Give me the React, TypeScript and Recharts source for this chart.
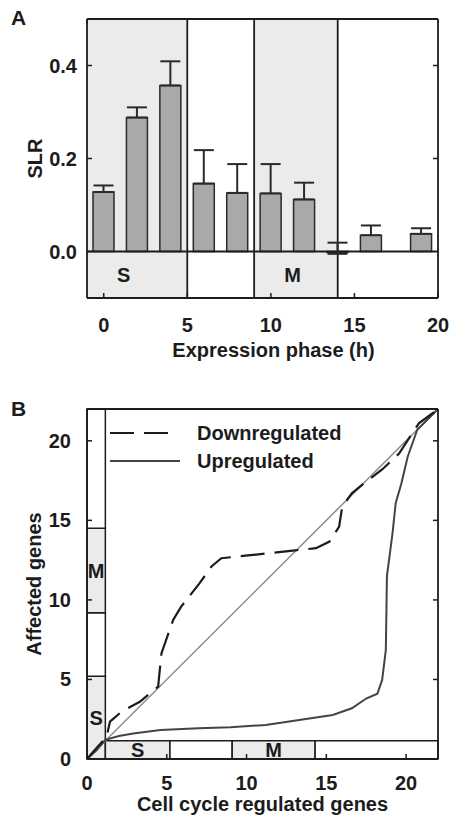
import {
  ComposedChart,
  Bar,
  ErrorBar,
  Line,
  XAxis,
  YAxis,
  ReferenceArea,
  ReferenceLine,
  Legend,
  Label
} from "recharts";

// panel A: expression phase vs SLR
const phaseHours = [0, 2, 4, 6, 8, 10, 12, 14, 16, 19];
const slrValues = [0.128, 0.288, 0.357, 0.146, 0.126, 0.125, 0.112, -0.002, 0.035, 0.038];
const slrErrUp = [0.014, 0.022, 0.052, 0.072, 0.062, 0.063, 0.036, 0.021, 0.021, 0.012];
const slrErrDown = [0, 0, 0, 0, 0, 0, 0, 0.003, 0, 0];
const phasesA = [
  { from: -1, to: 5, label: "S", shaded: true },
  { from: 5, to: 9, label: "", shaded: false },
  { from: 9, to: 14, label: "M", shaded: true },
  { from: 14, to: 20, label: "", shaded: false }
];
const ticksAx = [0, 5, 10, 15, 20];
const ticksAy = [0, 0.2, 0.4];

// panel B: cumulative curves
const downX = [0, 0.6, 1.23, 1.44, 2.17, 3.31, 4.46, 4.52, 4.67, 5.4, 5.9, 7.06, 7.8, 8.42, 10.4, 12.9, 14.35, 15.2, 15.8, 16.0, 16.6, 17.5, 18.5, 19.56, 20.8, 22];
const downY = [0, 0.7, 1.4, 2.35, 2.98, 3.6, 4.55, 5.18, 6.65, 8.74, 9.58, 11.05, 12.1, 12.62, 12.83, 13.1, 13.25, 13.67, 14.6, 15.87, 16.7, 17.44, 18.2, 19.2, 21.1, 22];
const upX = [0, 0.6, 1.15, 2.0, 2.9, 4.6, 7.0, 9.0, 11.2, 13.3, 15.4, 16.6, 17.5, 18.2, 18.5, 18.73, 18.8, 19.15, 19.35, 19.7, 20.1, 20.7, 22];
const upY = [0, 0.55, 1.2, 1.45, 1.6, 1.82, 1.93, 2.0, 2.14, 2.45, 2.77, 3.19, 3.8, 4.1, 4.97, 6.86, 11.5, 14.2, 16.1, 17.3, 19.0, 20.7, 22];
const diagX = [0, 22];
const phasesBLeft = [
  { from: 0, to: 5.2, label: "S", shaded: true },
  { from: 5.2, to: 9.2, label: "", shaded: false },
  { from: 9.2, to: 14.5, label: "M", shaded: true },
  { from: 14.5, to: 22, label: "", shaded: false }
];
const phasesBBottom = [
  { from: 1.15, to: 5.2, label: "S", shaded: true },
  { from: 5.2, to: 9.1, label: "", shaded: false },
  { from: 9.1, to: 14.3, label: "M", shaded: true },
  { from: 14.3, to: 22, label: "", shaded: false }
];
const bandWidth = 1.15;
const ticksB = [0, 5, 10, 15, 20];

const INK = "#1c1c1c";
const SHADE = "#ebebeb";
const FONT = "'Liberation Sans', Arial, sans-serif";
const FS = 20;

const barData = phaseHours.map((h, i) => ({
  h,
  slr: slrValues[i],
  err: [slrErrDown[i], slrErrUp[i]]
}));
const downData = downX.map((x, i) => ({ x, y: downY[i] }));
const upData = upX.map((x, i) => ({ x, y: upY[i] }));
const diagData = diagX.map((x) => ({ x, y: x }));

const legendItems = [
  { name: "Downregulated", dash: "24 10" },
  { name: "Upregulated", dash: undefined }
];

const BottomTick = (props: any) => {
  const { x, y, payload, dy, fmt } = props;
  return (
    <g>
      <line x1={x} y1={y} x2={x} y2={y - 5} stroke={INK} strokeWidth={1.5} />
      <text x={x} y={y + dy} textAnchor="middle" fontSize={FS} fontWeight="bold" fill={INK} fontFamily={FONT}>
        {fmt ? fmt(payload.value) : payload.value}
      </text>
    </g>
  );
};

const LeftTick = (props: any) => {
  const { x, y, payload, gap, fmt } = props;
  return (
    <g>
      <line x1={x} y1={y} x2={x + 5} y2={y} stroke={INK} strokeWidth={1.5} />
      <text x={x - gap} y={y + 7} textAnchor="end" fontSize={FS} fontWeight="bold" fill={INK} fontFamily={FONT}>
        {fmt ? fmt(payload.value) : payload.value}
      </text>
    </g>
  );
};

const TopTick = (props: any) => (
  <line x1={props.x} y1={props.y} x2={props.x} y2={props.y + 5} stroke={INK} strokeWidth={1.5} />
);

const RightTick = (props: any) => (
  <line x1={props.x} y1={props.y} x2={props.x - 5} y2={props.y} stroke={INK} strokeWidth={1.5} />
);

const xTitle = (text: string, dy: number, dx: number) => (props: any) => {
  const vb = props.viewBox;
  return (
    <text x={vb.x + vb.width / 2 + dx} y={vb.y + dy} textAnchor="middle" fontSize={FS} fontWeight="bold" fill={INK} fontFamily={FONT}>
      {text}
    </text>
  );
};

const yTitle = (text: string, cx: number) => (props: any) => {
  const vb = props.viewBox;
  const cy = vb.y + vb.height / 2;
  return (
    <text x={cx} y={cy} transform={`rotate(-90 ${cx} ${cy})`} textAnchor="middle" fontSize={FS} fontWeight="bold" fill={INK} fontFamily={FONT}>
      {text}
    </text>
  );
};

const LegendBox = () => (
  <svg width={250} height={60}>
    {legendItems.map((it, i) => (
      <g key={it.name}>
        <line x1={0} x2={it.dash ? 60 : 70} y1={10 + i * 28} y2={10 + i * 28} stroke={it.dash ? INK : "#444"} strokeWidth={2} strokeDasharray={it.dash} />
        <text x={87} y={17 + i * 28} fontSize={FS} fontWeight="bold" fill={INK} fontFamily={FONT}>
          {it.name}
        </text>
      </g>
    ))}
  </svg>
);

const panelLetter = (t: string, top: number) => (
  <div style={{ position: "absolute", left: 11, top, fontFamily: FONT, fontWeight: "bold", fontSize: 21, color: INK }}>{t}</div>
);

export default function App() {
  return (
    <div style={{ position: "absolute", left: 0, top: 0, width: 452, height: 816, background: "#fff" }}>
      {panelLetter("A", 6)}
      <div style={{ position: "absolute", left: 0, top: 0 }}>
        <ComposedChart width={452} height={400} data={barData} margin={{ top: 18, right: 13, left: 20, bottom: 42 }}>
          {phasesA.map((p) => (
            <ReferenceArea key={"a" + p.from} x1={p.from} x2={p.to} y1={-0.1} y2={0.5} fill={p.shaded ? SHADE : "#fff"} fillOpacity={1} stroke="none" />
          ))}
          {phasesA.map((p) => (
            <ReferenceArea
              key={"al" + p.from}
              x1={p.from}
              x2={p.to}
              y1={-0.1}
              y2={0}
              fillOpacity={0}
              stroke="none"
              label={{ value: p.label, position: "insideLeft", offset: 30, fontSize: FS, fontWeight: "bold", fill: INK, fontFamily: FONT }}
            />
          ))}
          {phasesA.slice(1).map((p) => (
            <ReferenceLine key={"v" + p.from} x={p.from} stroke={INK} strokeWidth={1.8} />
          ))}
          <ReferenceLine y={0} stroke={INK} strokeWidth={1.8} />
          <XAxis
            xAxisId={0}
            dataKey="h"
            type="number"
            domain={[-1, 20]}
            ticks={ticksAx}
            allowDataOverflow
            height={60}
            tickSize={0}
            tickMargin={0}
            tickLine={false}
            axisLine={{ stroke: INK, strokeWidth: 1.8 }}
            tick={<BottomTick dy={34} />}
          >
            <Label content={xTitle("Expression phase (h)", 59, 11)} />
          </XAxis>
          <XAxis xAxisId="top" orientation="top" type="number" domain={[-1, 20]} ticks={[0]} height={1} allowDataOverflow tickSize={0} tickMargin={0} tickLine={false} axisLine={{ stroke: INK, strokeWidth: 1.8 }} tick={<TopTick />} />
          <YAxis
            yAxisId={0}
            type="number"
            domain={[-0.1, 0.5]}
            ticks={ticksAy}
            allowDataOverflow
            width={67}
            tickSize={0}
            tickMargin={0}
            tickLine={false}
            axisLine={{ stroke: INK, strokeWidth: 1.8 }}
            tick={<LeftTick gap={10} fmt={(v: number) => v.toFixed(1)} />}
          >
            <Label content={yTitle("SLR", 42)} />
          </YAxis>
          <YAxis yAxisId="right" orientation="right" type="number" domain={[-0.1, 0.5]} ticks={[0.2, 0.4]} width={1} allowDataOverflow tickSize={0} tickMargin={0} tickLine={false} axisLine={{ stroke: INK, strokeWidth: 1.8 }} tick={<RightTick />} />
          <Bar dataKey="slr" barSize={21} fill="#a9a9a9" stroke="#2a2a2a" strokeWidth={1.5} isAnimationActive={false}>
            <ErrorBar dataKey="err" direction="y" width={10} stroke="#2a2a2a" strokeWidth={2} />
          </Bar>
        </ComposedChart>
      </div>
      {panelLetter("B", 397)}
      <div style={{ position: "absolute", left: 0, top: 400 }}>
        <ComposedChart width={452} height={416} margin={{ top: 8, right: 13, left: 20, bottom: 7 }}>
          {phasesBLeft.map((p) => (
            <ReferenceArea
              key={"l" + p.from}
              x1={0}
              x2={bandWidth}
              y1={p.from}
              y2={p.to}
              fill={p.shaded ? SHADE : "#fff"}
              fillOpacity={1}
              stroke={INK}
              strokeWidth={1.5}
              label={p.label ? { value: p.label, position: "center", fontSize: FS, fontWeight: "bold", fill: INK, fontFamily: FONT } : undefined}
            />
          ))}
          {phasesBBottom.map((p) => (
            <ReferenceArea
              key={"b" + p.from}
              x1={p.from}
              x2={p.to}
              y1={0}
              y2={bandWidth}
              fill={p.shaded ? SHADE : "#fff"}
              fillOpacity={1}
              stroke={INK}
              strokeWidth={1.5}
              label={p.label ? { value: p.label, position: "center", fontSize: FS, fontWeight: "bold", fill: INK, fontFamily: FONT } : undefined}
            />
          ))}
          <XAxis
            xAxisId={0}
            dataKey="x"
            type="number"
            domain={[0, 22]}
            ticks={ticksB}
            allowDataOverflow
            height={50}
            tickSize={0}
            tickMargin={0}
            tickLine={false}
            axisLine={{ stroke: INK, strokeWidth: 1.8 }}
            tick={<BottomTick dy={31} />}
          >
            <Label content={xTitle("Cell cycle regulated genes", 52, 0)} />
          </XAxis>
          <XAxis xAxisId="top" orientation="top" type="number" domain={[0, 22]} ticks={ticksB} height={1} allowDataOverflow tickSize={0} tickMargin={0} tickLine={false} axisLine={{ stroke: INK, strokeWidth: 1.8 }} tick={<TopTick />} />
          <YAxis
            yAxisId={0}
            type="number"
            domain={[0, 22]}
            ticks={ticksB}
            allowDataOverflow
            width={67}
            tickSize={0}
            tickMargin={0}
            tickLine={false}
            axisLine={{ stroke: INK, strokeWidth: 1.8 }}
            tick={<LeftTick gap={16} />}
          >
            <Label content={yTitle("Affected genes", 41)} />
          </YAxis>
          <YAxis yAxisId="right" orientation="right" type="number" domain={[0, 22]} ticks={[5, 10, 15, 20]} width={1} allowDataOverflow tickSize={0} tickMargin={0} tickLine={false} axisLine={{ stroke: INK, strokeWidth: 1.8 }} tick={<RightTick />} />
          <Line data={diagData} dataKey="y" type="linear" stroke="#8c8c8c" strokeWidth={1.5} dot={false} isAnimationActive={false} legendType="none" />
          <Line data={upData} dataKey="y" name="Upregulated" type="linear" stroke="#444" strokeWidth={2} dot={false} isAnimationActive={false} />
          <Line data={downData} dataKey="y" name="Downregulated" type="linear" stroke={INK} strokeWidth={2.2} strokeDasharray="24 10" dot={false} isAnimationActive={false} />
          <Legend layout="vertical" align="center" verticalAlign="middle" content={<LegendBox />} wrapperStyle={{ position: "absolute", top: 23, left: 110, width: 250 }} />
        </ComposedChart>
      </div>
    </div>
  );
}
